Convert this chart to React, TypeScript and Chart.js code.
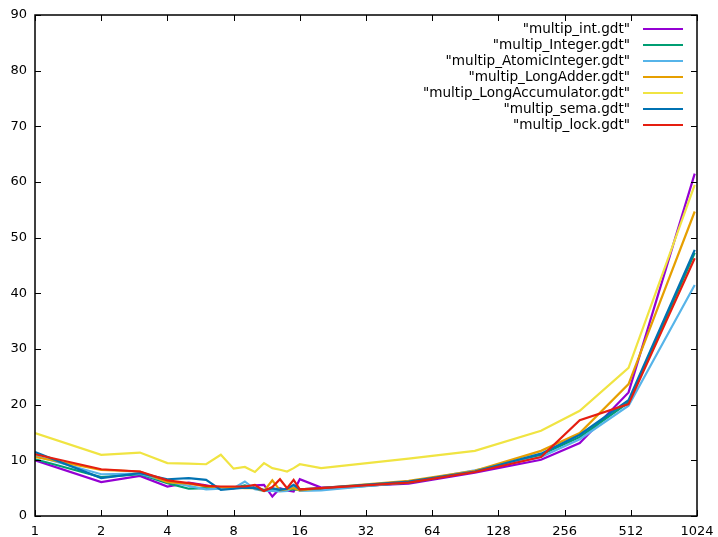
import React, { useEffect, useRef } from "react";
import { Chart, registerables } from "chart.js";

Chart.register(...registerables);

const xValues = [1, 2, 3, 4, 5, 6, 7, 8, 9, 10, 11, 12, 13, 14, 15, 16, 20, 50, 100, 200, 300, 500, 1000];

const intVals = [10.0, 6.1, 7.2, 5.3, 6.0, 5.5, 5.0, 5.0, 5.2, 5.5, 5.6, 3.5, 5.0, 4.6, 4.4, 6.6, 5.1, 5.8, 7.8, 10.1, 13.1, 22.2, 61.5];
const integerVals = [10.2, 7.0, 7.5, 5.9, 4.9, 5.0, 5.0, 5.0, 5.5, 5.0, 4.7, 4.6, 4.8, 4.6, 4.8, 4.7, 4.8, 6.0, 8.0, 11.0, 14.2, 20.4, 47.3];
const atomicVals = [10.8, 7.5, 7.6, 6.2, 5.4, 4.8, 4.9, 5.0, 6.2, 4.8, 4.5, 4.5, 4.4, 4.5, 5.3, 4.5, 4.6, 6.1, 8.2, 10.6, 13.8, 19.8, 41.5];
const adderVals = [10.6, 8.3, 8.0, 6.1, 5.8, 5.3, 5.2, 5.1, 5.0, 5.0, 4.5, 6.4, 4.6, 4.8, 5.0, 4.6, 5.0, 6.3, 8.1, 11.7, 14.9, 23.7, 54.7];
const accumVals = [14.9, 11.0, 11.4, 9.5, 9.4, 9.3, 11.0, 8.5, 8.8, 7.9, 9.5, 8.6, 8.3, 8.0, 8.6, 9.3, 8.6, 10.3, 11.7, 15.3, 18.9, 26.6, 59.5];
const semaVals = [11.5, 6.8, 7.7, 6.6, 6.8, 6.5, 4.7, 4.9, 5.1, 5.0, 4.6, 5.0, 4.7, 4.9, 5.6, 4.8, 5.0, 6.2, 8.0, 11.2, 14.6, 20.8, 47.8];
const lockVals = [11.1, 8.4, 8.0, 6.4, 5.9, 5.4, 5.3, 5.3, 5.3, 5.6, 4.5, 5.2, 6.6, 5.0, 6.5, 4.8, 5.0, 6.0, 7.9, 10.6, 17.2, 20.1, 46.3];

const seriesNames = [
  '"multip_int.gdt"',
  '"multip_Integer.gdt"',
  '"multip_AtomicInteger.gdt"',
  '"multip_LongAdder.gdt"',
  '"multip_LongAccumulator.gdt"',
  '"multip_sema.gdt"',
  '"multip_lock.gdt"',
];
const seriesValues = [intVals, integerVals, atomicVals, adderVals, accumVals, semaVals, lockVals];
const seriesColors = ["#9400d3", "#009e73", "#56b4e9", "#e69f00", "#f0e442", "#0072b2", "#e51e10"];

const xTicks = [1, 2, 4, 8, 16, 32, 64, 128, 256, 512, 1024];
const yTicks = [0, 10, 20, 30, 40, 50, 60, 70, 80, 90];

const FONT = "DejaVu Sans";

const framePlugin = {
  id: "gnuFrame",
  afterDatasetsDraw(chart: any) {
    const { ctx, chartArea } = chart;
    const { left, right, top, bottom } = chartArea;
    const xs = chart.scales.x;
    const ys = chart.scales.y;
    ctx.save();
    ctx.strokeStyle = "#000";
    ctx.lineWidth = 1;
    ctx.beginPath();
    const tl = 6;
    yTicks.forEach((v) => {
      const y = Math.round(ys.getPixelForValue(v)) + 0.5;
      ctx.moveTo(left, y);
      ctx.lineTo(left + tl, y);
      ctx.moveTo(right, y);
      ctx.lineTo(right - tl, y);
    });
    xTicks.forEach((v) => {
      const x = Math.round(xs.getPixelForValue(v)) + 0.5;
      ctx.moveTo(x, bottom);
      ctx.lineTo(x, bottom - tl);
      ctx.moveTo(x, top);
      ctx.lineTo(x, top + tl);
    });
    ctx.stroke();
    ctx.lineWidth = 1.5;
    ctx.strokeRect(left, top, right - left, bottom - top);

    // legend
    ctx.font = `13.6px "${FONT}"`;
    ctx.textAlign = "right";
    ctx.textBaseline = "middle";
    seriesNames.forEach((name, i) => {
      const y = 29 + i * 16;
      ctx.fillStyle = "#000";
      ctx.fillText(name, 630, y);
      ctx.strokeStyle = seriesColors[i];
      ctx.lineWidth = 2.2;
      ctx.beginPath();
      ctx.moveTo(643, y);
      ctx.lineTo(683, y);
      ctx.stroke();
    });
    ctx.restore();
  },
};

export default function App() {
  const canvasRef = useRef<HTMLCanvasElement | null>(null);

  useEffect(() => {
    if (!canvasRef.current) return;
    const datasets = seriesNames.map((name, i) => ({
      label: name,
      data: xValues.map((x, j) => ({ x, y: seriesValues[i][j] })),
      borderColor: seriesColors[i],
      backgroundColor: seriesColors[i],
      borderWidth: 2.2,
      pointRadius: 0,
      tension: 0,
      fill: false,
      order: seriesNames.length - 1 - i,
    }));
    const chart = new Chart(canvasRef.current, {
      type: "line",
      data: { datasets },
      plugins: [framePlugin],
      options: {
        animation: false,
        responsive: false,
        maintainAspectRatio: false,
        layout: { padding: { left: 0, right: 21, top: 15, bottom: 0 } },
        plugins: { legend: { display: false }, tooltip: { enabled: false } },
        scales: {
          x: {
            type: "logarithmic",
            min: 1,
            max: 1024,
            afterBuildTicks: (scale: any) => {
              scale.ticks = xTicks.map((v) => ({ value: v }));
            },
            afterFit: (scale: any) => {
              scale.height = 21;
              scale.paddingLeft = 0;
              scale.paddingRight = 0;
            },
            ticks: {
              autoSkip: false,
              maxRotation: 0,
              padding: 8,
              color: "#000",
              font: { family: FONT, size: 13 },
              callback: (v: any) => String(v),
            },
            grid: { display: false, drawTicks: false },
            border: { display: false },
          },
          y: {
            type: "linear",
            min: 0,
            max: 90,
            afterBuildTicks: (scale: any) => {
              scale.ticks = yTicks.map((v) => ({ value: v }));
            },
            afterFit: (scale: any) => {
              scale.width = 35;
              scale.paddingTop = 0;
              scale.paddingBottom = 0;
            },
            ticks: {
              padding: 8,
              color: "#000",
              font: { family: FONT, size: 13 },
            },
            grid: { display: false, drawTicks: false },
            border: { display: false },
          },
        },
      },
    });
    return () => chart.destroy();
  }, []);

  return (
    <div style={{ position: "fixed", left: 0, top: 0, width: 718, height: 537, background: "#fff" }}>
      <canvas ref={canvasRef} width={718} height={537} style={{ width: 718, height: 537 }} />
    </div>
  );
}
